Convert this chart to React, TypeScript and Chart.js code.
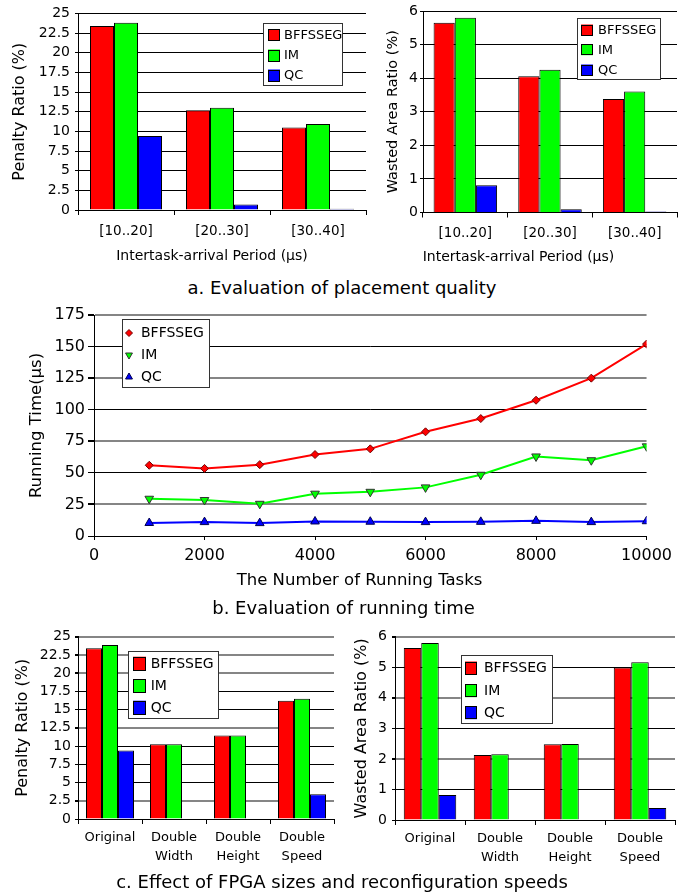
import React, { useEffect, useRef } from 'react';
import { Chart, registerables } from 'chart.js';

Chart.register(...registerables);

const FONT = "'DejaVu Sans', 'Noto Sans', sans-serif";
Chart.defaults.font.family = FONT;
Chart.defaults.color = '#000';

// ---------- data ----------
const SERIES = ['BFFSSEG', 'IM', 'QC'];

const periodLabels = ['[10..20]', '[20..30]', '[30..40]'];
const penaltyBFFSSEG = [23.4, 12.7, 10.5];
const penaltyIM = [23.8, 13.0, 10.95];
const penaltyQC = [9.4, 0.7, 0.15];

const wastedBFFSSEG = [5.65, 4.06, 3.38];
const wastedIM = [5.8, 4.25, 3.6];
const wastedQC = [0.81, 0.1, 0.03];

const taskCounts = [1000, 2000, 3000, 4000, 5000, 6000, 7000, 8000, 9000, 10000];
const runBFFSSEG = [56, 53.5, 56.5, 64.5, 69, 82.5, 93, 107.5, 125, 152];
const runIM = [29.5, 28.5, 25.5, 33.5, 35, 38.5, 48.5, 63, 60, 71];
const runQC = [10.3, 11, 10.2, 11.5, 11.3, 11, 11.2, 12, 11, 11.7];

const fpgaLabels = [['Original'], ['Double', 'Width'], ['Double', 'Height'], ['Double', 'Speed']];
const fpgaPenaltyBFFSSEG = [23.4, 10.25, 11.45, 16.2];
const fpgaPenaltyIM = [23.85, 10.25, 11.45, 16.5];
const fpgaPenaltyQC = [9.4, 0.08, 0.08, 3.4];
const fpgaWastedBFFSSEG = [5.63, 2.13, 2.48, 4.99];
const fpgaWastedIM = [5.79, 2.15, 2.49, 5.16];
const fpgaWastedQC = [0.82, 0.02, 0.02, 0.39];

const penaltyMax = 25;
const penaltyStep = 2.5;
const wastedMax = 6;
const wastedStep = 1;
const runMax = 175;
const runStep = 25;
const taskMax = 10000;
const taskStep = 2000;

const RED = '#ff0000';
const GREEN = '#00ff00';
const BLUE = '#0000ff';
const COLORS = [RED, GREEN, BLUE];
const GRID_GRAY = '#858585';

// ---------- legend plugin ----------
function drawMarker(ctx: CanvasRenderingContext2D, style: string, x: number, y: number, r: number) {
  ctx.beginPath();
  if (style === 'diamond') {
    ctx.moveTo(x, y - r);
    ctx.lineTo(x + r, y);
    ctx.lineTo(x, y + r);
    ctx.lineTo(x - r, y);
  } else if (style === 'down') {
    const s = r * Math.sin(Math.PI / 3);
    ctx.moveTo(x, y + r);
    ctx.lineTo(x - s, y - r / 2);
    ctx.lineTo(x + s, y - r / 2);
  } else {
    const s = r * Math.sin(Math.PI / 3);
    ctx.moveTo(x, y - r);
    ctx.lineTo(x - s, y + r / 2);
    ctx.lineTo(x + s, y + r / 2);
  }
  ctx.closePath();
  ctx.fill();
  ctx.stroke();
}

function makeLegend(o: any) {
  return {
    id: 'boxLegend',
    afterDraw(chart: any) {
      const ctx = chart.ctx as CanvasRenderingContext2D;
      ctx.save();
      ctx.fillStyle = '#fff';
      ctx.fillRect(o.x, o.y, o.w, o.h);
      ctx.strokeStyle = '#333';
      ctx.lineWidth = 1;
      ctx.strokeRect(Math.round(o.x) + 0.5, Math.round(o.y) + 0.5, Math.round(o.w) - 1, Math.round(o.h) - 1);
      ctx.font = `${o.font}px ${FONT}`;
      ctx.textBaseline = 'middle';
      ctx.textAlign = 'left';
      chart.data.datasets.forEach((ds: any, i: number) => {
        const cy = o.rows[i];
        if (o.markers) {
          ctx.fillStyle = ds.backgroundColor;
          ctx.strokeStyle = ds.pointBorderColor || '#000';
          ctx.lineWidth = 1;
          drawMarker(ctx, o.markers[i], o.sx, cy, o.mr[i]);
        } else {
          ctx.fillStyle = ds.backgroundColor;
          ctx.fillRect(o.sx, cy - o.sh / 2, o.sw, o.sh);
          ctx.strokeStyle = '#000';
          ctx.lineWidth = 1;
          ctx.strokeRect(Math.round(o.sx) + 0.5, Math.round(cy - o.sh / 2) + 0.5, o.sw - 1, o.sh - 1);
        }
        ctx.fillStyle = '#000';
        ctx.fillText(ds.label, o.tx, cy + 0.5);
      });
      ctx.restore();
    },
  };
}

// ---------- bar config ----------
function barConfig(o: any) {
  const grays: number[] = o.grayValues || [];
  const isGray = (c: any) => !!(c.tick && grays.indexOf(c.tick.value) >= 0);
  return {
    type: 'bar',
    data: {
      labels: o.labels,
      datasets: [o.a, o.b, o.c].map((d: number[], i: number) => ({
        label: SERIES[i],
        data: d,
        backgroundColor: COLORS[i],
        borderColor: '#000',
        borderWidth: 1,
      })),
    },
    options: {
      responsive: false,
      animation: false,
      layout: { padding: { top: o.padTop, right: o.padRight, left: 0, bottom: 0 } },
      datasets: { bar: { categoryPercentage: 0.75, barPercentage: 1 } },
      plugins: { legend: { display: false }, tooltip: { enabled: false } },
      scales: {
        x: {
          grid: { drawOnChartArea: false, drawTicks: true, tickLength: 5, color: '#000', offset: true },
          border: { color: '#000', width: 1 },
          ticks: { font: { size: o.xFont, lineHeight: 1.4 }, padding: o.xPad, maxRotation: 0, autoSkip: false },
          afterFit: (s: any) => { s.height = o.xH; },
        },
        y: {
          min: 0,
          max: o.yMax,
          grid: {
            color: (c: any) => (isGray(c) ? GRID_GRAY : '#000'),
            lineWidth: (c: any) => (isGray(c) ? 2 : 1),
            tickColor: '#000',
            tickLength: 3,
            drawTicks: true,
          },
          border: { color: '#000', width: 1 },
          ticks: {
            stepSize: o.step, autoSkip: false, font: { size: o.yFont }, padding: o.yPad,
            callback: (v: any) => String(v),
          },
          title: { display: true, text: o.yTitle, font: { size: o.yTitleSize }, padding: { top: o.yTitlePad, bottom: 0 } },
          afterFit: (s: any) => { s.width = o.yW; },
        },
      },
    },
    plugins: [makeLegend(o.legend)],
  };
}

function lineConfig() {
  const mk = (arr: number[]) => taskCounts.map((x, i) => ({ x, y: arr[i] }));
  const isGray = (c: any) => !!(c.tick && c.tick.value % 50 === 25);
  return {
    type: 'line',
    data: {
      datasets: [
        {
          label: SERIES[0], data: mk(runBFFSSEG), borderColor: RED, backgroundColor: RED,
          pointStyle: 'rectRot', pointRadius: 4, pointBorderColor: '#700000', pointBorderWidth: 1, borderWidth: 2,
        },
        {
          label: SERIES[1], data: mk(runIM), borderColor: GREEN, backgroundColor: GREEN,
          pointStyle: 'triangle', pointRotation: 180, pointRadius: 5, pointBorderColor: '#333', pointBorderWidth: 1, borderWidth: 2,
        },
        {
          label: SERIES[2], data: mk(runQC), borderColor: BLUE, backgroundColor: BLUE,
          pointStyle: 'triangle', pointRadius: 5, pointBorderColor: '#000050', pointBorderWidth: 1, borderWidth: 2,
        },
      ],
    },
    options: {
      responsive: false,
      animation: false,
      layout: { padding: { top: 25, right: 24, left: 0, bottom: 0 } },
      plugins: { legend: { display: false }, tooltip: { enabled: false } },
      scales: {
        x: {
          type: 'linear',
          min: 0,
          max: taskMax,
          grid: { drawOnChartArea: false, drawTicks: true, tickLength: 4, color: '#000' },
          border: { color: '#000', width: 1 },
          ticks: { stepSize: taskStep, font: { size: 16 }, padding: 6, maxRotation: 0, callback: (v: any) => String(v) },
          afterFit: (s: any) => { s.height = 84; },
        },
        y: {
          min: 0,
          max: runMax,
          grid: {
            color: (c: any) => (isGray(c) ? GRID_GRAY : '#000'),
            lineWidth: (c: any) => (isGray(c) ? 2 : 1),
            tickColor: '#000',
            tickLength: 6,
            drawTicks: true,
          },
          border: { color: '#000', width: 1 },
          ticks: { stepSize: runStep, autoSkip: false, font: { size: 16 }, padding: 3, callback: (v: any) => String(v) },
          title: { display: true, text: 'Running Time(μs)', font: { size: 16.5 }, padding: { top: 27, bottom: 0 } },
          afterFit: (s: any) => { s.width = 94; },
        },
      },
    },
    plugins: [
      makeLegend({
        x: 122, y: 29, w: 88, h: 69, font: 14, rows: [43, 65, 87], tx: 141, sx: 129,
        markers: ['diamond', 'down', 'up'], mr: [3.5, 4, 4],
      }),
    ],
  };
}

// ---------- components ----------
function ChartBox({ left, top, width, height, make }: any) {
  const ref = useRef<HTMLCanvasElement>(null);
  useEffect(() => {
    const chart = new Chart(ref.current as HTMLCanvasElement, make());
    return () => chart.destroy();
  }, []);
  return (
    <div style={{ position: 'absolute', left, top, width, height }}>
      <canvas ref={ref} width={width} height={height} style={{ display: 'block', width, height }} />
    </div>
  );
}

function Label({ x, y, size, children }: any) {
  return (
    <div
      style={{
        position: 'absolute', left: x, top: y, transform: 'translate(-50%, -50%)',
        fontFamily: FONT, fontSize: size, lineHeight: 1, whiteSpace: 'nowrap', color: '#000',
      }}
    >
      {children}
    </div>
  );
}

export default function App() {
  return (
    <div style={{ position: 'absolute', left: 0, top: 0, width: 678, height: 895, background: '#fff', overflow: 'hidden' }}>
      <ChartBox
        left={0} top={0} width={370} height={270}
        make={() => barConfig({
          labels: periodLabels, a: penaltyBFFSSEG, b: penaltyIM, c: penaltyQC,
          yMax: penaltyMax, step: penaltyStep, yTitle: 'Penalty Ratio (%)', yTitleSize: 16, yTitlePad: 10.4,
          padTop: 10, padRight: 4, yW: 78, xH: 60, xFont: 13.5, yFont: 14, xPad: 7, yPad: 5,
          legend: { x: 263, y: 23, w: 80, h: 63, font: 13, rows: [35, 55.5, 75.5], sx: 268, sw: 12, sh: 12, tx: 284 },
        })}
      />
      <ChartBox
        left={370} top={0} width={308} height={270}
        make={() => barConfig({
          labels: periodLabels, a: wastedBFFSSEG, b: wastedIM, c: wastedQC,
          yMax: wastedMax, step: wastedStep, yTitle: 'Wasted Area Ratio (%)', yTitleSize: 14.5, yTitlePad: 14.3,
          padTop: 11, padRight: 1, yW: 53, xH: 57.5, xFont: 13.5, yFont: 14, xPad: 7, yPad: 2,
          legend: { x: 207, y: 18, w: 84, h: 62, font: 13, rows: [30, 49.7, 70], sx: 211, sw: 12, sh: 11, tx: 228 },
        })}
      />
      <Label x={212} y={255} size={14}>Intertask-arrival Period (μs)</Label>
      <Label x={518.5} y={256} size={14}>Intertask-arrival Period (μs)</Label>
      <Label x={342} y={288} size={18}>a. Evaluation of placement quality</Label>

      <ChartBox left={0} top={290} width={678} height={330} make={lineConfig} />
      <Label x={359.5} y={580} size={16.5}>The Number of Running Tasks</Label>
      <Label x={343.5} y={608} size={18}>b. Evaluation of running time</Label>

      <ChartBox
        left={0} top={620} width={340} height={275}
        make={() => barConfig({
          labels: fpgaLabels, a: fpgaPenaltyBFFSSEG, b: fpgaPenaltyIM, c: fpgaPenaltyQC,
          yMax: penaltyMax, step: penaltyStep, yTitle: 'Penalty Ratio (%)', yTitleSize: 16, yTitlePad: 13.4,
          padTop: 16.7, padRight: 6, yW: 78, xH: 76, xFont: 13, yFont: 14, xPad: 5, yPad: 4,
          grayValues: [25, 22.5, 20, 12.5, 2.5],
          legend: { x: 128, y: 31, w: 91, h: 68, font: 14, rows: [43.7, 66, 87.7], sx: 133, sw: 13, sh: 14, tx: 150.7 },
        })}
      />
      <ChartBox
        left={340} top={620} width={338} height={275}
        make={() => barConfig({
          labels: fpgaLabels, a: fpgaWastedBFFSSEG, b: fpgaWastedIM, c: fpgaWastedQC,
          yMax: wastedMax, step: wastedStep, yTitle: 'Wasted Area Ratio (%)', yTitleSize: 16, yTitlePad: 12.1,
          padTop: 16.7, padRight: 3, yW: 55, xH: 75, xFont: 13, yFont: 14, xPad: 5, yPad: 5,
          grayValues: [6, 4, 2],
          legend: { x: 120.7, y: 35, w: 91.6, h: 69, font: 14, rows: [48, 70.7, 92.7], sx: 125, sw: 12, sh: 13, tx: 144 },
        })}
      />
      <Label x={342} y={882} size={18}>c. Effect of FPGA sizes and reconfiguration speeds</Label>
    </div>
  );
}
